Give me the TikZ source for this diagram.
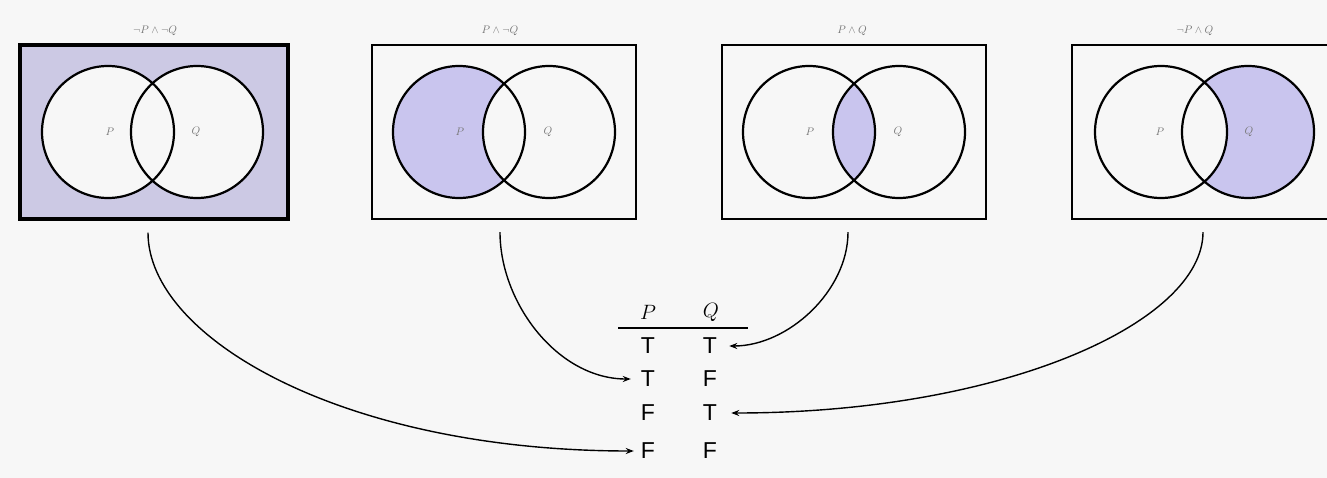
\documentclass[tikz,border=0pt]{standalone}
\usepackage{fontspec}
\newfontfamily\tabfont{Liberation Sans}
\usetikzlibrary{arrows.meta}
\definecolor{lilac}{RGB}{201,197,238}
\definecolor{lilacgray}{RGB}{204,201,228}
\definecolor{bg}{RGB}{247,247,247}
\definecolor{lbl}{RGB}{120,120,120}
\begin{document}
\begin{tikzpicture}[x=1pt,y=-1pt,
  vbox/.style={draw=black,line width=2.2pt,minimum width=#1,minimum height=174pt,inner sep=0pt},
  ring/.style={draw=black,line width=2.2pt},
  boxlabel/.style={text=lbl,font=\fontsize{11}{11}\selectfont,inner sep=0pt},
  setlabel/.style={text=lbl,font=\fontsize{11}{11}\selectfont,inner sep=0pt},
  cell/.style={font=\tabfont\fontsize{23}{23}\selectfont,inner sep=0pt},
  head/.style={font=\fontsize{22}{22}\selectfont,inner sep=0pt},
  conn/.style={line width=1.4pt,-{Stealth[length=8pt,width=6pt]}}]
\useasboundingbox (0,0) rectangle (1327,478);
\fill[bg] (0,0) rectangle (1327,478);

% shading
\fill[lilacgray] (20,45) rectangle (288,219);
\fill[bg] (108,132) circle (66pt) (197,132) circle (66pt);
\begin{scope}
  \clip (459,132) circle (66pt);
  \fill[lilac,even odd rule] (459,132) circle (66pt) (549,132) circle (66pt);
\end{scope}
\begin{scope}
  \clip (809,132) circle (66pt);
  \fill[lilac] (899,132) circle (66pt);
\end{scope}
\begin{scope}
  \clip (1248,132) circle (66pt);
  \fill[lilac,even odd rule] (1248,132) circle (66pt) (1161,132) circle (66pt);
\end{scope}

% boxes
\node[vbox=268pt,line width=3.4pt] (b1) at (154,132) {};
\node[vbox=264pt] (b2) at (504,132) {};
\node[vbox=264pt] (b3) at (854,132) {};
\node[vbox=264pt] (b4) at (1204,132) {};

% circles
\draw[ring] (108,132) circle (66pt) (197,132) circle (66pt);
\draw[ring] (459,132) circle (66pt) (549,132) circle (66pt);
\draw[ring] (809,132) circle (66pt) (899,132) circle (66pt);
\draw[ring] (1161,132) circle (66pt) (1248,132) circle (66pt);

% set labels
\node[setlabel] (p1) at (110,132) {$P$};
\node[setlabel] (q1) at (196,132) {$Q$};
\node[setlabel] (p2) at (460,132) {$P$};
\node[setlabel] (q2) at (548,132) {$Q$};
\node[setlabel] (p3) at (810,132) {$P$};
\node[setlabel] (q3) at (898,132) {$Q$};
\node[setlabel] (p4) at (1160,132) {$P$};
\node[setlabel] (q4) at (1249,132) {$Q$};

% box labels
\node[boxlabel] (l1) at (155,31) {$\neg P\wedge\neg Q$};
\node[boxlabel] (l2) at (500,31) {$P\wedge\neg Q$};
\node[boxlabel] (l3) at (852,31) {$P\wedge Q$};
\node[boxlabel] (l4) at (1195,31) {$\neg P\wedge Q$};

% truth table
\node[head] (hp) at (648,312) {$P$};
\node[head] (hq) at (711,312) {$Q$};
\draw[line width=1.2pt] (618,328) -- (748,328);
\node[cell] (r1p) at (648,346) {T};
\node[cell] (r1q) at (710,346) {T};
\node[cell] (r2p) at (648,379) {T};
\node[cell] (r2q) at (710,379) {F};
\node[cell] (r3p) at (648,413) {F};
\node[cell] (r3q) at (710,413) {T};
\node[cell] (r4p) at (648,451) {F};
\node[cell] (r4q) at (710,451) {F};

% connectors
\draw[conn,shorten <=12pt,shorten >=7pt] ([xshift=-6pt]b1.south) to[out=-90,in=180,out looseness=0.55,in looseness=1.4] (r4p.west);
\draw[conn,shorten <=12pt,shorten >=10pt] ([xshift=-4pt]b2.south) to[out=-90,in=180] (r2p.west);
\draw[conn,shorten <=12pt,shorten >=12pt] ([xshift=-6pt]b3.south) to[out=-90,in=0] (r1q.east);
\draw[conn,shorten <=12pt,shorten >=14pt] ([xshift=-1pt]b4.south) to[out=-90,in=0,out looseness=0.5,in looseness=1.4] (r3q.east);
\end{tikzpicture}
\end{document}
